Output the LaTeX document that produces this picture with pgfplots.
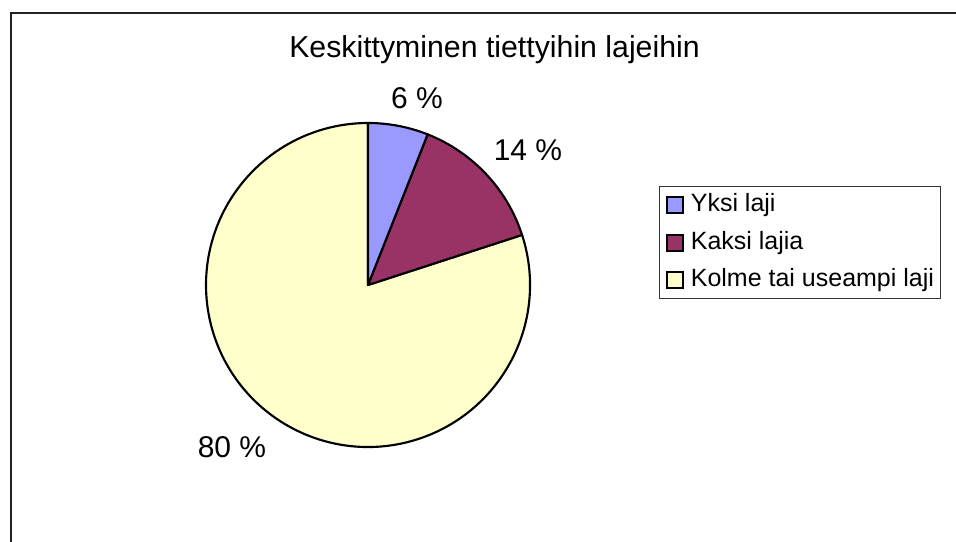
\documentclass[border=0pt]{standalone}
\usepackage{fontspec}
\setmainfont{Liberation Sans}
\usepackage{pgfplots}
\usepackage{pgfplotstable}
\pgfplotsset{compat=1.18}

\definecolor{sliceA}{HTML}{9999FF}
\definecolor{sliceB}{HTML}{993366}
\definecolor{sliceC}{HTML}{FFFFCC}
\definecolor{frame}{HTML}{222222}

% share of each slice, percent
\pgfplotstableread{
pct
6
14
80
}\piedata
\pgfplotstablegetelem{0}{pct}\of\piedata\let\pA\pgfplotsretval
\pgfplotstablegetelem{1}{pct}\of\piedata\let\pB\pgfplotsretval
\pgfplotstablegetelem{2}{pct}\of\piedata\let\pC\pgfplotsretval
\pgfmathsetmacro\aA{90-3.6*\pA}
\pgfmathsetmacro\aB{\aA-3.6*\pB}
\pgfmathsetmacro\aC{\aB-3.6*\pC}

\pgfplotsset{
  sqlegend/.style={legend image code/.code={%
    \draw[##1, line width=1.5pt] (0pt,-6pt) rectangle (12pt,6pt);}},
}

\begin{document}
\begin{tikzpicture}
\useasboundingbox (0,0) rectangle (717pt,406.5pt);
\begin{axis}[
    at={(0,0)}, anchor=origin,
    scale only axis,
    x=0.75pt, y=0.75pt,
    xmin=0, xmax=956, ymin=0, ymax=542,
    hide axis,
    clip=false,
    legend cell align=left,
    legend style={
        at={(0.6893,0.6568)}, anchor=north west,
        draw=black!80, line width=0.8pt,
        inner xsep=5pt, inner ysep=0pt, row sep=0pt,
        font=\fontsize{18.75}{22}\selectfont,
        nodes={inner sep=0pt, text height=19pt, text depth=9.1pt},
        /tikz/every odd column/.append style={column sep=5pt},
    },
]
\addlegendimage{sqlegend, fill=sliceA, draw=black}
\addlegendentry{Yksi laji}
\addlegendimage{sqlegend, fill=sliceB, draw=black}
\addlegendentry{Kaksi lajia}
\addlegendimage{sqlegend, fill=sliceC, draw=black}
\addlegendentry{Kolme tai useampi laji}

% outer frame (right and bottom edges fall outside the picture)
\draw[frame, line width=1.4pt] (axis cs:11,0) -- (axis cs:11,529) -- (axis cs:956,529);

% pie slices, clockwise from the top
\filldraw[fill=sliceC, draw=black, line width=1.6pt, line join=round]
  (axis cs:368,257) -- ++(\aB:121.5pt) arc[start angle=\aB, end angle=\aC, radius=121.5pt] -- cycle;
\filldraw[fill=sliceB, draw=black, line width=1.6pt, line join=round]
  (axis cs:368,257) -- ++(\aA:121.5pt) arc[start angle=\aA, end angle=\aB, radius=121.5pt] -- cycle;
\filldraw[fill=sliceA, draw=black, line width=1.6pt, line join=round]
  (axis cs:368,257) -- ++(90:121.5pt) arc[start angle=90, end angle=\aA, radius=121.5pt] -- cycle;

\node[font=\fontsize{22.7}{27}\selectfont, inner sep=0pt] at (axis cs:494.5,492.5) {Keskittyminen tiettyihin lajeihin};
\node[font=\fontsize{22.5}{27}\selectfont, inner sep=0pt] at (axis cs:417,444) {\pA\ \%};
\node[font=\fontsize{22.5}{27}\selectfont, inner sep=0pt] at (axis cs:528,392) {\pB\ \%};
\node[font=\fontsize{22.5}{27}\selectfont, inner sep=0pt] at (axis cs:232,95) {\pC\ \%};
\end{axis}
\end{tikzpicture}
\end{document}
